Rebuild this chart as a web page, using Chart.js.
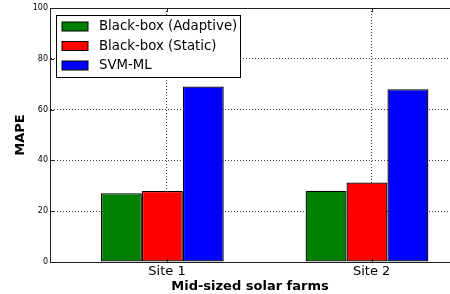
<!DOCTYPE html>
<html>
<head>
<meta charset="utf-8">
<script src="https://cdn.jsdelivr.net/npm/chart.js@4"></script>
<style>
  html, body { margin: 0; padding: 0; background: #fff; overflow: hidden; }
  #wrap { width: 450px; height: 294px; }
</style>
</head>
<body>
<div id="wrap"><canvas id="mapeChart" width="450" height="294"></canvas></div>
<script>
const sites = ['Site 1', 'Site 2'];
const adaptive = [27.1, 28.1];
const staticBox = [28.0, 31.3];
const svmMl = [69.1, 68.0];
const yTicks = [0, 20, 40, 60, 80, 100];

const tickShift = 0.0227;

// legend box + top spine + inward tick marks, drawn like matplotlib
const framePlugin = {
  id: 'frame',
  afterDraw(chart) {
    const { ctx, chartArea: a, scales } = chart;
    ctx.save();
    ctx.strokeStyle = '#222';
    ctx.lineWidth = 1;
    ctx.beginPath();
    ctx.moveTo(a.left, a.top + 0.5);
    ctx.lineTo(a.right, a.top + 0.5);
    yTicks.forEach(v => {
      const y = Math.round(scales.y.getPixelForValue(v)) + 0.5;
      ctx.moveTo(a.left, y);
      ctx.lineTo(a.left + 4, y);
    });
    scales.x.ticks.forEach(t => {
      const x = Math.round(scales.x.getPixelForValue(t.value)) + 0.5;
      ctx.moveTo(x, a.top);
      ctx.lineTo(x, a.top + 4);
      ctx.moveTo(x, a.bottom);
      ctx.lineTo(x, a.bottom - 4);
    });
    ctx.stroke();

    const bx = a.left + 6.5, by = a.top + 7.5, bw = 184, bh = 62;
    ctx.fillStyle = '#fff';
    ctx.fillRect(bx, by, bw, bh);
    ctx.strokeStyle = '#000';
    ctx.strokeRect(bx, by, bw, bh);
    ctx.font = '13.3px "DejaVu Sans"';
    ctx.textBaseline = 'middle';
    chart.data.datasets.forEach((ds, i) => {
      const cy = by + 11 + i * 19.5;
      ctx.fillStyle = ds.backgroundColor;
      ctx.fillRect(a.left + 12, cy - 4.5, 26, 9);
      ctx.strokeStyle = '#000';
      ctx.strokeRect(a.left + 12, cy - 4.5, 26, 9);
      ctx.fillStyle = '#000';
      ctx.fillText(ds.label, a.left + 49, cy + 0.5);
    });
    ctx.restore();
  }
};

const ctx = document.getElementById('mapeChart').getContext('2d');
Chart.defaults.font.family = '"DejaVu Sans", sans-serif';
Chart.defaults.color = '#000';

const toPoints = arr => arr.map((v, i) => ({ x: i, y: v }));

new Chart(ctx, {
  type: 'bar',
  data: {
    datasets: [
      { label: 'Black-box (Adaptive)', data: toPoints(adaptive), backgroundColor: '#008000' },
      { label: 'Black-box (Static)', data: toPoints(staticBox), backgroundColor: '#ff0000' },
      { label: 'SVM-ML', data: toPoints(svmMl), backgroundColor: '#0000ff' }
    ]
  },
  options: {
    responsive: false,
    animation: false,
    layout: { padding: { top: 8, right: 0, left: 0, bottom: 0 } },
    datasets: {
      bar: {
        borderColor: '#000',
        borderWidth: 1.3,
        borderSkipped: false,
        categoryPercentage: 0.6,
        barPercentage: 1.0
      }
    },
    plugins: {
      legend: { display: false },
      tooltip: { enabled: false }
    },
    scales: {
      x: {
        type: 'linear',
        bounds: 'data',
        offset: false,
        min: -0.549,
        max: 1.4056,
        z: 1,
        afterBuildTicks: scale => {
          scale.ticks = sites.map((s, i) => ({ value: i + tickShift }));
        },
        afterFit: scale => { scale.height = 32; },
        ticks: {
          callback: value => sites[Math.round(value)],
          font: { size: 13 },
          padding: 2,
          maxRotation: 0
        },
        grid: {
          offset: false,
          color: 'rgba(0,0,0,0.75)',
          lineWidth: 1,
          drawTicks: false
        },
        border: { display: true, color: '#222', width: 1, dash: [1, 2] },
        title: {
          display: true,
          text: 'Mid-sized solar farms',
          font: { size: 13, weight: 'bold' },
          padding: { top: 0, bottom: 0 }
        }
      },
      y: {
        min: 0,
        max: 100,
        z: 1,
        afterBuildTicks: scale => {
          scale.ticks = yTicks.map(v => ({ value: v }));
        },
        afterFit: scale => { scale.width = 50; },
        ticks: {
          font: { size: 8 },
          padding: 2
        },
        grid: {
          color: 'rgba(0,0,0,0.75)',
          lineWidth: 1,
          drawTicks: false
        },
        border: { display: true, color: '#222', width: 1, dash: [1, 2] },
        title: {
          display: true,
          text: 'MAPE',
          font: { size: 13, weight: 'bold' },
          padding: { top: 13, bottom: 0 }
        }
      }
    }
  },
  plugins: [framePlugin]
});
</script>
</body>
</html>
